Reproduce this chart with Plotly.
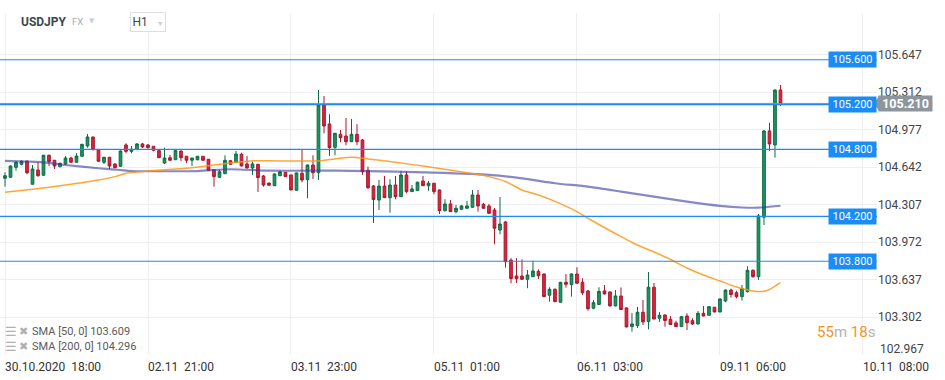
import plotly.graph_objects as go

# ---------------- data (USDJPY, H1 candles) ----------------
candle_idx = list(range(142))
open_ = [104.541, 104.550, 104.639, 104.666, 104.693, 104.488, 104.615, 104.568, 104.747, 104.702,
         104.645, 104.669, 104.722, 104.684, 104.738, 104.830, 104.910, 104.794, 104.684, 104.729,
         104.669, 104.648, 104.839, 104.782, 104.797, 104.848, 104.839, 104.827, 104.788, 104.678,
         104.725, 104.707, 104.785, 104.738, 104.702, 104.707, 104.738, 104.711, 104.618, 104.550,
         104.582, 104.698, 104.681, 104.756, 104.669, 104.633, 104.666, 104.562, 104.499, 104.475,
         104.564, 104.595, 104.571, 104.434, 104.586, 104.529, 104.660, 104.591, 105.196, 105.026,
         104.818, 104.934, 104.919, 104.868, 104.934, 104.883, 104.613, 104.472, 104.347, 104.472,
         104.368, 104.481, 104.377, 104.571, 104.422, 104.431, 104.517, 104.475, 104.497, 104.437,
         104.252, 104.312, 104.243, 104.264, 104.273, 104.282, 104.392, 104.309, 104.294, 104.258,
         104.079, 104.151, 103.811, 103.668, 103.668, 103.639, 103.662, 103.709, 103.686, 103.496,
         103.550, 103.434, 103.612, 103.591, 103.686, 103.612, 103.535, 103.380, 103.414, 103.535,
         103.526, 103.401, 103.490, 103.383, 103.216, 103.225, 103.344, 103.262, 103.568, 103.291,
         103.320, 103.282, 103.249, 103.216, 103.311, 103.269, 103.240, 103.335, 103.317, 103.389,
         103.347, 103.445, 103.543, 103.519, 103.484, 103.528, 103.719, 103.662, 104.193, 104.964,
         104.839, 105.330]
high = [104.595, 104.656, 104.696, 104.702, 104.702, 104.660, 104.684, 104.749, 104.752, 104.705,
        104.681, 104.740, 104.734, 104.765, 104.848, 104.937, 104.913, 104.800, 104.732, 104.732,
        104.675, 104.791, 104.854, 104.830, 104.854, 104.857, 104.848, 104.830, 104.791, 104.815,
        104.749, 104.791, 104.788, 104.740, 104.725, 104.740, 104.740, 104.713, 104.620, 104.618,
        104.747, 104.705, 104.785, 104.770, 104.740, 104.690, 104.669, 104.571, 104.502, 104.582,
        104.602, 104.598, 104.573, 104.591, 104.803, 104.663, 104.747, 105.330, 105.276, 105.113,
        104.946, 104.973, 105.080, 105.071, 105.024, 104.892, 104.645, 104.481, 104.526, 104.562,
        104.532, 104.562, 104.606, 104.606, 104.481, 104.511, 104.562, 104.517, 104.499, 104.441,
        104.354, 104.347, 104.303, 104.303, 104.339, 104.437, 104.437, 104.321, 104.312, 104.276,
        104.374, 104.160, 103.827, 103.827, 103.816, 103.722, 103.805, 103.728, 103.691, 103.568,
        103.557, 103.615, 103.686, 103.691, 103.746, 103.648, 103.543, 103.454, 103.568, 103.588,
        103.530, 103.543, 103.566, 103.387, 103.338, 103.392, 103.454, 103.704, 103.606, 103.347,
        103.325, 103.311, 103.269, 103.311, 103.335, 103.291, 103.356, 103.400, 103.397, 103.391,
        103.468, 103.548, 103.555, 103.537, 103.588, 103.755, 103.728, 104.222, 104.973, 105.038,
        105.334, 105.375]
low = [104.466, 104.548, 104.609, 104.657, 104.577, 104.486, 104.556, 104.565, 104.651, 104.624,
       104.639, 104.660, 104.680, 104.682, 104.735, 104.815, 104.790, 104.692, 104.669, 104.624,
       104.631, 104.645, 104.765, 104.765, 104.795, 104.812, 104.806, 104.782, 104.722, 104.669,
       104.700, 104.705, 104.696, 104.675, 104.651, 104.702, 104.700, 104.610, 104.466, 104.547,
       104.580, 104.664, 104.679, 104.648, 104.630, 104.571, 104.419, 104.466, 104.476, 104.472,
       104.562, 104.553, 104.434, 104.431, 104.506, 104.363, 104.535, 104.526, 104.943, 104.741,
       104.747, 104.863, 104.836, 104.866, 104.839, 104.571, 104.446, 104.142, 104.258, 104.365,
       104.234, 104.354, 104.374, 104.407, 104.419, 104.428, 104.472, 104.430, 104.398, 104.222,
       104.243, 104.240, 104.228, 104.258, 104.271, 104.279, 104.243, 104.271, 104.222, 103.952,
       104.041, 103.743, 103.603, 103.606, 103.633, 103.559, 103.660, 103.642, 103.481, 103.439,
       103.436, 103.431, 103.564, 103.484, 103.601, 103.499, 103.359, 103.371, 103.409, 103.503,
       103.396, 103.398, 103.365, 103.210, 103.171, 103.204, 103.231, 103.191, 103.282, 103.258,
       103.216, 103.231, 103.213, 103.213, 103.186, 103.231, 103.235, 103.308, 103.315, 103.344,
       103.344, 103.434, 103.475, 103.469, 103.448, 103.521, 103.653, 103.633, 104.124, 104.785,
       104.725, 105.187]
close = [104.564, 104.651, 104.684, 104.693, 104.591, 104.624, 104.564, 104.747, 104.690, 104.651,
         104.675, 104.722, 104.684, 104.740, 104.845, 104.910, 104.797, 104.693, 104.729, 104.651,
         104.636, 104.785, 104.782, 104.800, 104.848, 104.821, 104.815, 104.791, 104.725, 104.722,
         104.702, 104.788, 104.725, 104.702, 104.722, 104.738, 104.702, 104.613, 104.556, 104.600,
         104.702, 104.666, 104.758, 104.651, 104.633, 104.669, 104.547, 104.481, 104.479, 104.580,
         104.600, 104.556, 104.437, 104.589, 104.526, 104.660, 104.591, 105.196, 105.008, 104.815,
         104.943, 104.904, 104.868, 104.934, 104.868, 104.600, 104.457, 104.352, 104.472, 104.368,
         104.481, 104.377, 104.571, 104.422, 104.446, 104.506, 104.475, 104.497, 104.422, 104.252,
         104.312, 104.243, 104.273, 104.294, 104.294, 104.392, 104.294, 104.273, 104.228, 104.095,
         104.133, 103.796, 103.646, 103.644, 103.639, 103.677, 103.713, 103.671, 103.484, 103.550,
         103.439, 103.612, 103.594, 103.686, 103.603, 103.519, 103.376, 103.430, 103.530, 103.508,
         103.401, 103.490, 103.369, 103.213, 103.240, 103.344, 103.258, 103.568, 103.284, 103.318,
         103.271, 103.235, 103.216, 103.305, 103.251, 103.240, 103.335, 103.311, 103.394, 103.347,
         103.463, 103.543, 103.503, 103.484, 103.557, 103.719, 103.662, 104.205, 104.964, 104.848,
         105.330, 105.210]

# moving averages (candle index -> value)
sma50_idx = [0, 5, 11, 17, 20, 22, 26, 33, 38, 42, 45, 50, 57, 60, 63, 66, 71, 76, 82, 88, 91,
             94, 97, 100, 104, 106, 112, 115, 118, 121, 124, 127, 130, 133, 136, 138, 139, 141]
sma50 = [104.416, 104.443, 104.481, 104.526, 104.556, 104.586, 104.606, 104.631, 104.660, 104.684,
         104.698, 104.696, 104.696, 104.714, 104.729, 104.714, 104.684, 104.651, 104.606, 104.556,
         104.513, 104.437, 104.392, 104.335, 104.243, 104.184, 104.020, 103.945, 103.883, 103.816,
         103.740, 103.677, 103.624, 103.570, 103.535, 103.532, 103.548, 103.609]
sma200_idx = [0, 7, 11, 17, 21, 23, 35, 41, 48, 60, 66, 71, 78, 88, 94, 100, 106, 112, 118, 124,
              130, 134, 137, 141]
sma200 = [104.696, 104.684, 104.660, 104.631, 104.615, 104.606, 104.606, 104.622, 104.609, 104.609,
          104.606, 104.600, 104.591, 104.571, 104.541, 104.497, 104.466, 104.422, 104.377, 104.332,
          104.294, 104.280, 104.279, 104.296]

# horizontal levels and axes
levels = [105.600, 105.200, 104.800, 104.200, 103.800]
last_price = 105.210
y_ticks = [102.967, 103.302, 103.637, 103.972, 104.307, 104.642, 104.977, 105.312, 105.647]
x_tick_idx = [0, 26, 52, 78, 104, 130, 156]
x_tick_text = ["30.10.2020  18:00", "02.11  21:00", "03.11  23:00", "05.11  01:00",
               "06.11  03:00", "09.11  06:00", "10.11  08:00"]
sma_labels = ["SMA [50,  0] 103.609", "SMA [200,  0] 104.296"]

# ---------------- figure ----------------
FONT = "Roboto, 'Open Sans', sans-serif"
W, H = 945, 380
ML, MR, MT, MB = 0, 68, 13, 25
PW = W - ML - MR
PH = H - MT - MB


def px(xp):
    return (xp - ML) / PW


def py(yp):
    return (H - MB - yp) / PH


fig = go.Figure()
fig.add_trace(go.Scatter(x=sma200_idx, y=sma200, mode="lines",
                         line=dict(color="rgba(55,58,160,0.6)", width=2.2, shape="spline", smoothing=0.6),
                         hoverinfo="skip"))
fig.add_trace(go.Scatter(x=sma50_idx, y=sma50, mode="lines",
                         line=dict(color="rgba(255,150,20,0.85)", width=1.5, shape="spline", smoothing=0.6),
                         hoverinfo="skip"))
fig.add_trace(go.Candlestick(
    x=candle_idx, open=open_, high=high, low=low, close=close,
    increasing=dict(line=dict(color="#0f6b43", width=1), fillcolor="#1c9461"),
    decreasing=dict(line=dict(color="#a8182c", width=1), fillcolor="#dc2440"),
    whiskerwidth=0,
))

shapes = []
for lv in levels:
    shapes.append(dict(type="line", xref="paper", x0=0, x1=1, yref="y", y0=lv, y1=lv,
                       line=dict(color="#1a8cf5", width=1.2), layer="above"))
shapes.append(dict(type="line", xref="paper", x0=0, x1=1, yref="y", y0=last_price, y1=last_price,
                   line=dict(color="#868d93", width=1), layer="above"))
# small pointer of the last-price tag
shapes.append(dict(type="path", xref="paper", xsizemode="pixel", xanchor=1,
                   yref="y", ysizemode="pixel", yanchor=last_price,
                   path="M 2,-7.5 L -3,0 L 2,7.5 Z", fillcolor="#8d969c", line=dict(width=0),
                   layer="above"))

ann = []
for lv in levels:
    ann.append(dict(text=f"{lv:.3f}", xref="paper", x=1, xanchor="right", yref="y", y=lv,
                    showarrow=False, bgcolor="#1a8cf5", font=dict(color="white", size=11, family=FONT),
                    width=44, height=12, borderpad=1.5))
ann.append(dict(text=f"<b>{last_price:.3f}</b>", xref="paper", x=1, xanchor="left", xshift=1,
                yref="y", y=last_price, showarrow=False, bgcolor="#8d969c",
                font=dict(color="white", size=12.5, family=FONT), width=50, height=12, borderpad=1.5))
# bottom price label sits a little higher than its grid line
ann.append(dict(text=f"{y_ticks[0]:.3f}", xref="paper", x=1, xanchor="left", xshift=1,
                yref="paper", y=py(349), yanchor="middle", showarrow=False,
                font=dict(size=12, color="#444", family=FONT)))
# countdown
ann.append(dict(text='<span style="color:#f5921e">55</span><span style="color:#b4b4b4">m</span> '
                     '<span style="color:#f5921e">18</span><span style="color:#b4b4b4">s</span>',
                xref="paper", x=1, xanchor="right", yref="paper", y=py(332), yanchor="middle",
                showarrow=False, font=dict(size=15, family=FONT)))
# indicator legend
for i, lbl in enumerate(sma_labels):
    yy = py(331 + 15 * i)
    ann.append(dict(text="☰", xref="paper", x=px(3), xanchor="left", yref="paper", y=yy,
                    yanchor="middle", showarrow=False, font=dict(size=13, color="#b0b0b0", family="DejaVu Sans")))
    ann.append(dict(text="✖", xref="paper", x=px(17), xanchor="left", yref="paper", y=yy,
                    yanchor="middle", showarrow=False, font=dict(size=11, color="#b0b0b0", family="DejaVu Sans")))
    ann.append(dict(text=lbl.replace("  ", "\u00a0"), xref="paper", x=px(30), xanchor="left", yref="paper", y=yy,
                    yanchor="middle", showarrow=False, font=dict(size=11, color="#5a5a5a", family=FONT)))
# header
ann.append(dict(text="<b>USDJPY</b>", xref="paper", x=px(19), xanchor="left", yref="paper", y=py(22),
                yanchor="middle", showarrow=False, font=dict(size=12, color="#3d4650", family=FONT)))
ann.append(dict(text="FX", xref="paper", x=px(70), xanchor="left", yref="paper", y=py(22),
                yanchor="middle", showarrow=False, font=dict(size=9.5, color="#a3abb3", family=FONT)))
ann.append(dict(text="▼", xref="paper", x=px(87), xanchor="left", yref="paper", y=py(21),
                yanchor="middle", showarrow=False, font=dict(size=7, color="#c9ced3", family="DejaVu Sans")))
ann.append(dict(text='H1\u00a0\u00a0\u00a0<span style="color:#c9ced3;font-size:7px">▼</span>',
                xref="paper", x=px(130), xanchor="left", yref="paper", y=py(22), yanchor="middle",
                showarrow=False, bgcolor="white", bordercolor="#dcdfe2", borderwidth=1, borderpad=2,
                width=30, height=14, font=dict(size=12, color="#444", family=FONT)))

fig.update_layout(
    width=W, height=H,
    margin=dict(l=ML, r=MR, t=MT, b=MB),
    paper_bgcolor="white", plot_bgcolor="white",
    showlegend=False,
    font=dict(family=FONT),
    shapes=shapes, annotations=ann,
    xaxis=dict(range=[-0.909, 158.55], tickvals=x_tick_idx,
               ticktext=[t.replace("  ", "\u00a0\u00a0") for t in x_tick_text],
               ticklabelposition="outside right", ticklabelstandoff=3,
               showgrid=True, gridcolor="#efefef", gridwidth=1,
               zeroline=False, showline=False, ticks="", rangeslider=dict(visible=False),
               tickfont=dict(size=12, color="#333", family=FONT), fixedrange=True),
    yaxis=dict(side="right", range=[102.9625, 106.0177], tickvals=y_ticks,
               ticktext=[""] + [f"{v:.3f}" for v in y_ticks[1:]], showgrid=True, gridcolor="#efefef",
               zeroline=False, showline=False, ticks="",
               tickfont=dict(size=12, color="#444", family=FONT), fixedrange=True),
)

fig.write_html("out.html")
